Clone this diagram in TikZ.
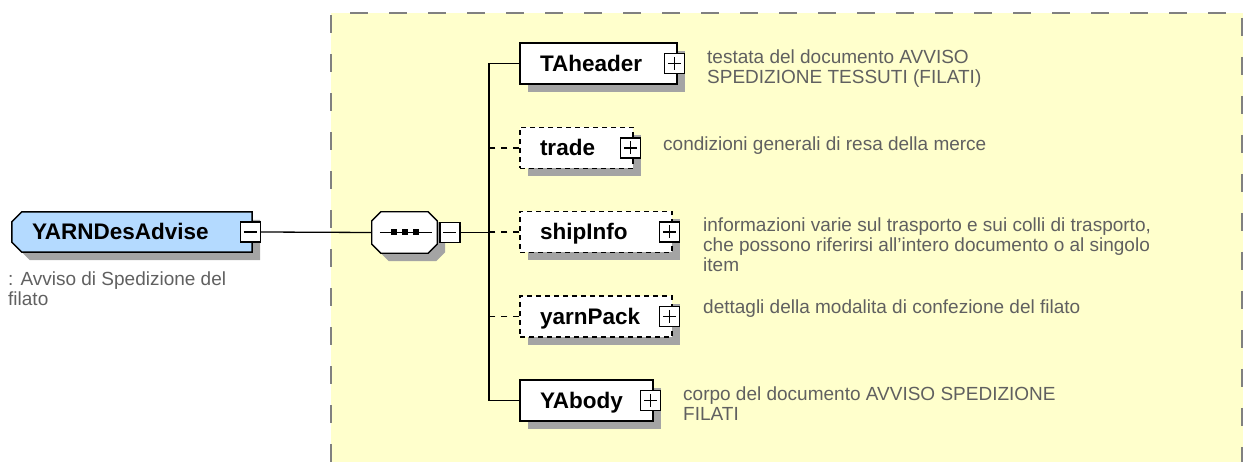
\documentclass[tikz,border=0pt]{standalone}
\usepackage{fontspec}
\setmainfont{Liberation Sans}
\usetikzlibrary{shadows,backgrounds}
\definecolor{areayellow}{RGB}{255,255,204}
\definecolor{rootblue}{RGB}{180,218,255}
\definecolor{shadowgray}{RGB}{164,164,164}
\definecolor{areagray}{RGB}{128,128,128}
\definecolor{notegray}{RGB}{96,96,96}
\newcommand{\namefont}{\fontsize{22.5}{24}\selectfont\bfseries}
\newcommand{\notefont}{\fontsize{19}{20}\selectfont}
\begin{document}
\begin{tikzpicture}[x=1pt,y=-1pt,
  boxshadow/.style={drop shadow={shadow xshift=8pt,shadow yshift=-8pt,fill=shadowgray,opacity=1}},
  elemtext/.style={minimum height=41pt,inner xsep=20pt,inner ysep=0pt,
    text width=#1,text height=16pt,text depth=0pt,align=left,font=\namefont},
  elem/.style={elemtext=#1,draw,line width=1.5pt,fill=white,boxshadow},
  optelem/.style={elem=#1,line width=1.3pt,dash pattern=on 5pt off 4pt},
  expminus/.style={draw,line width=1.4pt,fill=white,minimum size=20pt,inner sep=0pt,
    path picture={\draw[line width=1.4pt]([xshift=3.5pt]path picture bounding box.west)--([xshift=-3.5pt]path picture bounding box.east);}},
  expplus/.style={draw,line width=1.4pt,fill=white,minimum size=20pt,inner sep=0pt,
    path picture={\draw[line width=1.4pt]([xshift=3.5pt]path picture bounding box.west)--([xshift=-3.5pt]path picture bounding box.east)
      ([yshift=-3.5pt]path picture bounding box.north)--([yshift=3.5pt]path picture bounding box.south);}},
  note/.style={anchor=north west,inner sep=0pt,align=left,text=notegray,font=\notefont},
  optline/.style={line width=1.3pt,dash pattern=on 6pt off 6pt},
  outshadow/.style={fill=shadowgray,transform canvas={shift={(8pt,-8pt)}}}]
\useasboundingbox(0,0)rectangle(1243,462);
\node[elemtext=200pt,minimum height=40pt](root)at(132,232){YARNDesAdvise};
\node[expminus](root-m)at([xshift=-2pt]root.east){};
\node[minimum width=65pt,minimum height=41pt,inner sep=0pt](seq)at(404.5,232.5){};
\node[expminus,anchor=west](seq-m)at([xshift=2pt]seq.east){};
\begin{scope}[on background layer]
\fill[areayellow](331,13)rectangle(1243,462);
\draw[areagray,line width=2pt,dash pattern=on 18pt off 21pt](331,462)--(331,13)--(1242,13)--(1242,462);
\fill[outshadow]([xshift=10pt]root.north west)--(root.north east)--(root.south east)--([xshift=10pt]root.south west)
  --([yshift=10pt]root.south west)--([yshift=-10pt]root.north west)--cycle;
\draw[fill=rootblue,line width=1.5pt]([xshift=10pt]root.north west)--(root.north east)--(root.south east)--([xshift=10pt]root.south west)
  --([yshift=10pt]root.south west)--([yshift=-10pt]root.north west)--cycle;
\fill[outshadow]([xshift=9pt]seq.north west)--([xshift=-9pt]seq.north east)--([yshift=-9pt]seq.north east)--([yshift=9pt]seq.south east)
  --([xshift=-9pt]seq.south east)--([xshift=9pt]seq.south west)--([yshift=9pt]seq.south west)--([yshift=-9pt]seq.north west)--cycle;
\draw[fill=white,line width=1.3pt]([xshift=9pt]seq.north west)--([xshift=-9pt]seq.north east)--([yshift=-9pt]seq.north east)--([yshift=9pt]seq.south east)
  --([xshift=-9pt]seq.south east)--([xshift=9pt]seq.south west)--([yshift=9pt]seq.south west)--([yshift=-9pt]seq.north west)--cycle;
\end{scope}
\draw[line width=1.3pt]([xshift=8pt]seq.west)--([xshift=-5pt]seq.east);
\foreach \dx in {-11,0,11}\fill([xshift=\dx pt]seq.center)+(-3,-3)rectangle+(3,3);
\node[elem=117pt](TAheader)at(598.5,63.5){TAheader};
\node[optelem=73pt](trade)at(576.5,148){trade};
\node[optelem=112pt](shipInfo)at(596,232){shipInfo};
\node[optelem=112pt](yarnPack)at(596,316.5){yarnPack};
\node[elem=93pt](YAbody)at(586.5,400.5){YAbody};
\foreach \n in {TAheader,trade,shipInfo,yarnPack,YAbody}\node[expplus](\n-p)at([xshift=-3pt]\n.east){};
\coordinate(fork)at(489,232.5);
\draw[line width=1.3pt](root-m.east)--(seq.west);
\draw[line width=1.3pt](seq-m.east)--(fork);
\draw[line width=1.3pt](TAheader.west)-|(fork)|-(YAbody.west);
\foreach \n in {trade,shipInfo,yarnPack}\draw[optline](\n.west)--(\n.west-|fork);
\node[note](root-note)at(8,272){: Avviso di Spedizione del\\filato};
\node[note](TAheader-note)at(707,50){testata del documento AVVISO\\SPEDIZIONE TESSUTI (FILATI)};
\node[note](trade-note)at(663,137){condizioni generali di resa della merce};
\node[note](shipInfo-note)at(703,218){informazioni varie sul trasporto e sui colli di trasporto,\\che possono riferirsi all'intero documento o al singolo\\item};
\node[note](yarnPack-note)at(703,300){dettagli della modalita di confezione del filato};
\node[note](YAbody-note)at(683,387){corpo del documento AVVISO SPEDIZIONE\\FILATI};
\end{tikzpicture}
\end{document}
